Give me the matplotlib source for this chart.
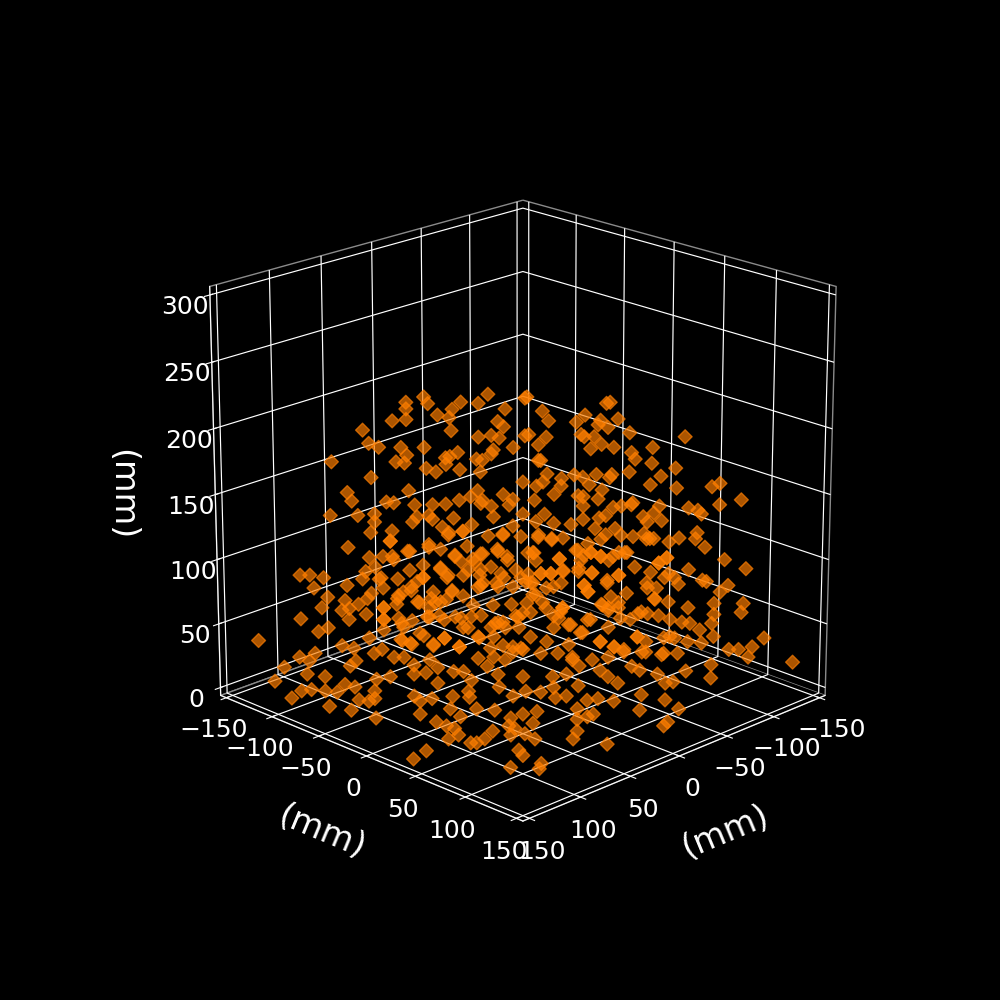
import matplotlib
matplotlib.use("Agg")
import matplotlib.pyplot as plt
import numpy as np

# Positions, region by region (mm)
x_upper_left = [
    -22,-8,-17,50,48,59,59,4,9,-27,
    75,-2,66,59,-30,-3,81,-17,16,12,
    -35,78,73,23,11,20,0,33,37,39,
    -16,-19,15,16,97,103,60,49,32,-18,
    77,5,51,58,23,10,87,-7,0,108,
    27,66,-19,55,85,61,16,98,84,114,
    15,48,-4,46,15,114,28,95,41,116,
    29,38,70,26,-22,50,51,19,87,42,
    -11,-19,13,40,110,66,74,65,12,3,
    19,42,114,56,48,114,109,102,82,35,
    64,90,78,-9,22,51,45,45,7]
y_upper_left = [
    -58,-72,-63,-50,-48,-59,-59,-84,-9,-53,
    5,-78,-66,-59,-50,-77,-81,-63,-16,-12,
    -45,-78,-73,-103,-91,-100,-80,-33,-37,-39,
    -64,-61,-15,-16,-97,-23,-60,-49,-32,-62,
    -77,-85,-131,-58,-23,-10,-87,-73,-80,-28,
    -107,14,-61,-55,-5,19,-16,-98,-84,-34,
    -95,-48,-76,-46,-15,-34,-108,-15,-41,-36,
    -109,-38,10,-26,-58,30,-131,-99,-7,-42,
    -69,-61,-13,-120,-30,-66,6,15,-92,-83,
    -99,-122,-34,24,32,-114,-109,-102,-82,-115,
    -64,-10,2,-71,-22,29,35,35,-7]
z_upper_left = [
    207,201,200,224,219,220,215,191,215,186,
    234,189,206,207,182,179,199,174,195,193,
    166,189,186,166,166,160,158,182,179,173,
    157,156,184,181,175,195,174,170,169,147,
    163,147,131,153,153,150,145,125,122,165,
    123,169,125,142,163,164,141,134,134,156,
    112,134,111,131,133,150,101,150,125,142,
    93,119,143,127,97,141,88,85,133,108,
    89,83,108,80,124,100,124,122,74,71,
    70,69,116,116,124,88,88,86,85,63,
    85,108,108,66,88,111,147,167,142]

x_upper_right = [
    -2,-41,-50,-83,-44,-72,-80,-89,-13,-27,
    -54,-82,-70,-38,-43,-43,-52,-41,-31,-36,
    -75,1,-46,-48,-107,-55,-98,-119,-48,-9,
    -95,-24,-78,-86,-26,-71,-70,-106,-78,-96,
    -58,-111,28,-60,-44,-81,7,-47,30,40,
    21,25,-46,-79,10,13,-58,-126,-89,-49,
    -97,-14,-108,-28,-112,10,-5,-83,-9,-11,
    -56,-65,-20,2,10,-22,33,40,-55,20,
    -8,-47,-83,4,-103,-108,-63,-47,-88,-38,
    -15,-9,1,-33,-51,8,14,6,-11,-5,
    1,35,-59,-103,-114,-43,-32,-16,-28,-61,
    12,-76,-90,-24,-33,31,38,26,-50,-84]
y_upper_right = [
    2,-39,-30,3,44,-8,0,9,13,27,
    54,82,-10,38,43,-37,-28,-39,31,36,
    -5,79,46,-32,27,55,18,39,-32,9,
    15,104,-2,6,26,-9,70,26,78,96,
    138,111,52,-20,44,1,73,-33,50,40,
    59,56,-34,-1,70,68,138,46,89,129,
    17,94,28,108,32,70,85,3,89,11,
    -24,-15,100,78,70,102,46,40,-25,60,
    8,47,3,76,23,28,63,127,88,118,
    95,89,79,113,131,73,67,74,91,85,
    79,45,-21,103,114,123,112,96,108,-19,
    68,-4,10,104,113,49,43,54,130,4]
z_upper_right = [
    224,204,194,200,220,191,187,188,206,205,
    197,194,176,203,201,176,174,175,194,194,
    165,208,186,168,166,182,157,150,156,176,
    147,194,145,145,165,143,164,137,155,156,
    179,146,186,142,163,133,178,136,180,180,
    177,171,125,126,169,170,163,119,138,156,
    123,163,115,162,109,162,161,113,162,135,
    107,106,154,153,152,150,150,156,94,138,
    119,124,98,145,99,95,116,142,116,138,
    139,140,137,135,131,134,129,127,127,124,
    124,127,79,100,93,114,123,116,119,69,
    115,68,66,112,111,111,111,111,106,62]

x_lower_left = [
    107,90,138,141,53,131,89,46,118,116,
    33,25,96,85,-3,70,61,-27,45,42,
    51,114,110,26,92,87,3,65,55,-34,
    136,100,105,110,25,18,88,80,71,61,
    53,44,79,110,100,14,80,68,62,15,
    9,93,87,107,115,110,115,111,105,100,
    62,96,46,72,50,45,86,89,123,87,
    95,83,23,15,49,58,128,149,140,114,
    107,95,89,75,70,53,83,66,152,147,
    140,134,130,125,115,68,52,45,150,138,
    123,118,115,95,92,86,76,67,127,153,
    131,116,103,94,111,123,86,118,114,117,
    112,87,84,106,99,103,95,154,133,126,
    122,86]
y_lower_left = [
    -107,-90,-58,-61,-133,-51,-89,-126,-38,-36,
    -113,-105,-16,-5,-77,10,19,-53,35,-122,
    -131,-114,-30,-106,-12,-7,-83,15,25,-46,
    -136,-100,-105,-30,-105,-98,-8,1,9,19,
    28,37,-79,-30,-20,-94,1,13,18,-15,
    -9,-93,-87,-107,-115,-110,-35,-31,-25,-20,
    -62,-16,-46,8,30,35,-86,-89,-123,-7,
    -15,-3,-23,-15,31,22,-128,-69,-60,-34,
    -27,-15,-9,5,10,28,-3,14,-72,-67,
    -60,-54,-50,-45,-35,13,28,35,-85,-58,
    -43,-38,-35,-15,-12,-6,5,13,-47,7,
    29,44,57,66,49,37,74,42,46,43,
    48,73,76,54,61,57,65,46,37,114,
    118,74]
z_lower_left = [
    78,80,93,85,46,83,62,43,92,96,
    56,50,98,97,54,94,102,57,101,35,
    31,54,85,43,89,85,45,87,87,43,
    37,47,44,76,32,30,78,76,77,79,
    74,79,39,68,70,20,62,70,62,40,
    47,33,31,27,24,21,50,53,47,47,
    37,57,34,55,56,51,21,17,16,45,
    41,39,23,24,45,40,5,34,32,30,
    32,34,35,36,36,34,27,29,21,22,
    21,20,26,24,21,21,24,17,11,9,
    14,13,15,17,13,15,17,16,6,24,
    27,31,31,30,25,21,24,18,16,8,
    11,18,16,5,8,5,14,5,2,11,
    24,11]

x_lower_right = [
    -74,-72,20,21,-12,36,-56,35,30,-42,
    40,-3,-8,-81,-59,-64,-26,-105,-116,-38,
    -52,-105,-59,-98,-113,-112,-43,-140,-4,25,
    16,6,-3,-9,-117,-40,-44,-49,-55,-56,
    -124,-44,28,10,1,-6,-100,-22,-31,-78,
    -43,-50,-106,-111,-118,-116,-139,40,31,-18,
    15,5,-3,-52,-22,-30,-38,-97,-55,-84,
    40,25,18,-29,1,-3,-8,-15,-19,-28,
    -32,-36,12,25,31,39,18,24,-20,-32,
    8,2,-6,22,-39,73,53,45,48,53,
    80,75,79,8,10,53,55,74,38,120,
    111,112]
y_lower_right = [
    -6,-8,60,59,12,44,-24,45,50,-38,
    40,83,88,1,59,64,106,25,36,118,
    132,105,139,98,113,112,123,60,4,56,
    64,74,83,89,37,120,124,129,135,136,
    124,-36,52,70,79,86,20,102,111,78,
    123,130,106,111,118,116,139,40,49,18,
    65,75,83,52,102,110,118,97,135,84,
    40,55,62,29,79,83,88,95,99,108,
    112,116,68,56,49,42,62,57,100,112,
    73,78,86,138,119,87,107,115,112,107,
    80,85,81,152,150,107,105,86,122,120,
    129,128]
z_lower_right = [
    53,58,85,82,78,104,57,95,89,44,
    81,85,89,43,58,58,92,56,45,103,
    105,80,97,66,66,59,85,35,59,79,
    72,76,70,77,31,74,73,68,73,63,
    39,17,59,66,59,55,17,59,62,39,
    59,58,30,30,32,24,20,53,50,27,
    45,45,47,30,51,49,50,18,31,13,
    32,32,34,17,37,32,27,40,37,34,
    27,28,25,24,20,21,17,16,18,14,
    14,15,13,30,7,29,31,27,25,23,
    27,20,12,21,18,14,8,8,4,20,
    14,10]

x_dense = [
    74,71,68,64,61,60,63,90,93,96,
    100,103,86,84,110,110,101,87,82,74,
    70,63,56,54,50,43,42,45,41,80,
    72,44,41,39,50,41,38,70,87,77,
    -26,-18,-27,-32,-30,-13,7,12,19,24,
    -1,3,-3,20,29,0,-23,15,28,34,
    13,10,6,11,35,34,31,26,35,34,
    20,22,17,25,11,8,0,-3,-8,-12,
    -12,-8,-3,1,-28,-32,-22,-27,-31,-36,
    -6,1,15,-20,-31,-34,-14,
    -59,-61,-69,-76,-72,-74,-84,-90,-55,-48,
    -106,-102,-111,-86,-93,-60,-100,-109,-64,-52]
y_dense = [
    6,9,13,16,19,20,18,-10,-13,-16,
    -20,-23,-6,-4,-30,-30,-21,-7,-2,6,
    10,18,24,26,30,38,38,35,39,1,
    8,37,39,42,30,39,43,10,-7,3,
    -54,-62,-53,-48,-50,-67,-87,-92,-99,-104,
    -79,-83,-77,-100,-109,-80,-57,-95,-108,-114,
    68,71,74,69,46,47,49,54,45,47,
    60,58,63,56,69,73,80,83,88,92,
    92,88,83,79,108,112,102,107,111,116,
    86,79,65,100,111,114,94,
    -21,-19,-11,-4,-8,-6,4,10,-25,-32,
    26,22,31,6,13,-20,20,29,-16,-28]
z_dense = [
    125,120,114,120,114,104,101,108,105,101,
    97,92,92,89,85,76,73,78,79,78,
    70,63,70,73,74,78,70,55,54,62,
    55,114,108,105,140,139,127,143,131,142,
    60,83,85,78,64,33,10,18,12,15,
    66,72,53,85,93,47,8,45,81,64,
    129,125,127,121,127,121,111,111,104,95,
    85,77,72,70,66,76,87,83,85,96,
    127,127,121,124,119,123,104,100,108,108,
    55,59,47,51,50,63,76,
    79,70,69,68,58,53,60,66,95,96,
    95,37,34,49,5,60,17,47,11,40]

x_ticks = [-150, -100, -50, 0, 50, 100, 150]
z_ticks = [0, 50, 100, 150, 200, 250, 300]

x = x_upper_left + x_upper_right + x_lower_left + x_lower_right + x_dense
y = y_upper_left + y_upper_right + y_lower_left + y_lower_right + y_dense
z = z_upper_left + z_upper_right + z_lower_left + z_lower_right + z_dense

fig = plt.figure(figsize=(10, 10), dpi=100, facecolor='black')
ax = fig.add_subplot(projection='3d', facecolor='black')
ax.scatter(x, y, z, marker='D', s=50, c='#ff7f00', alpha=0.68)
ax.set_xlim(-156.25, 156.25)
ax.set_ylim(-156.25, 156.25)
ax.set_zlim(-6.25, 306.25)
ax.set_xticks(x_ticks)
ax.set_yticks(x_ticks)
ax.set_zticks(z_ticks)
ax.set_box_aspect((1, 1, 1), zoom=0.95)
ax.view_init(elev=20, azim=45)
ax.set_xlabel('(mm)', color='white', fontsize=24, labelpad=20)
ax.set_ylabel('(mm)', color='white', fontsize=24, labelpad=20)
ax.set_zlabel('(mm)', color='white', fontsize=24, labelpad=23, rotation=270)
for a in (ax.xaxis, ax.yaxis, ax.zaxis):
    a.set_pane_color((0, 0, 0, 1))
    a.pane.set_edgecolor('#8a8a8a')
    a.line.set_color('white')
    a._axinfo['grid']['color'] = 'white'
    a._axinfo['grid']['linewidth'] = 0.85
    a.set_tick_params(colors='white', labelsize=18)
ax.xaxis.set_rotate_label(True)
ax.yaxis.set_rotate_label(True)
ax.zaxis.set_rotate_label(False)
fig.savefig('out.png', facecolor='black')
